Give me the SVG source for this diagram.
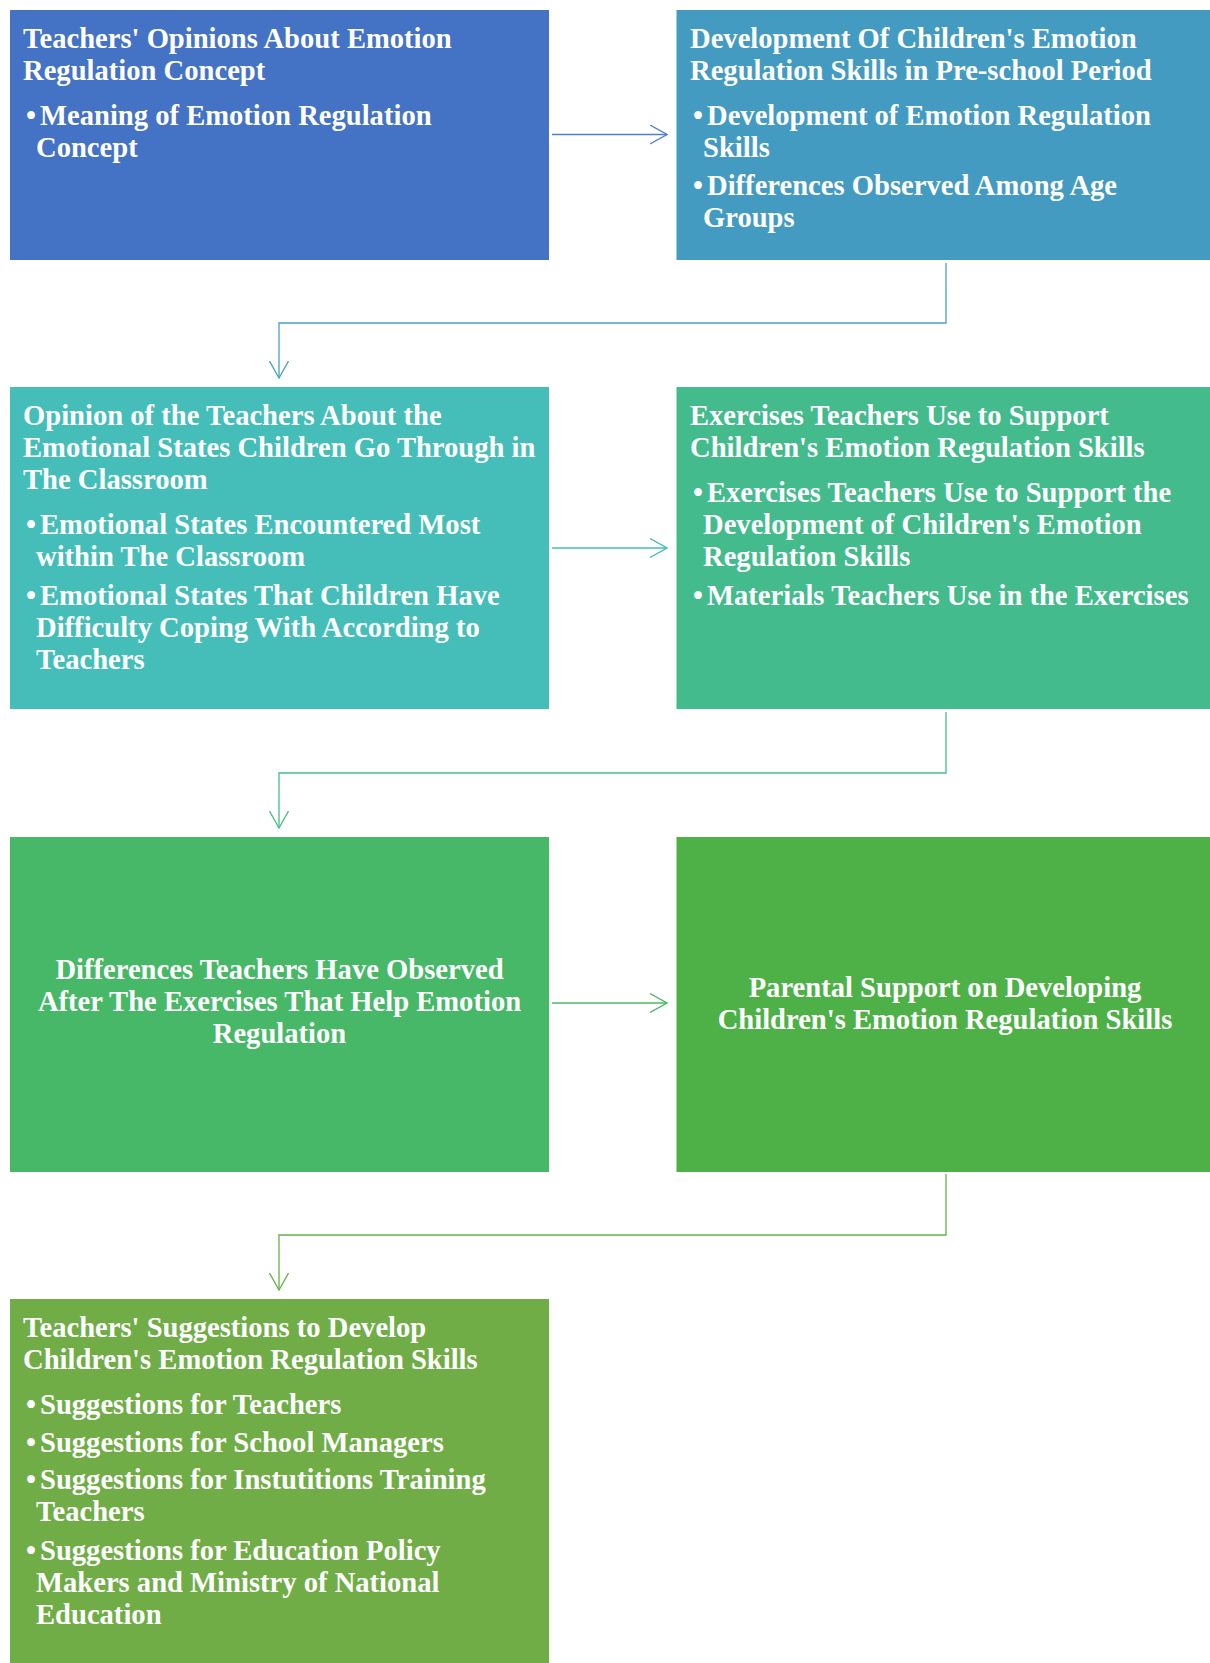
<svg xmlns="http://www.w3.org/2000/svg" width="1210" height="1663" viewBox="0 0 1210 1663">
<style>
text{font-family:"Liberation Serif","Times New Roman",serif;font-weight:bold;font-size:28.6px;fill:#ffffff}
.c{text-anchor:middle}
.ln{fill:none;stroke-width:1.3}
</style>
<defs>
<marker id="m1" viewBox="0 0 18 20" refX="17" refY="10" markerWidth="18" markerHeight="20" markerUnits="userSpaceOnUse" orient="auto"><path d="M0,0.5 L17,10 L0,19.5" fill="none" stroke="#4F7FD0" stroke-width="1.3"/></marker>
<marker id="m2" viewBox="0 0 18 20" refX="17" refY="10" markerWidth="18" markerHeight="20" markerUnits="userSpaceOnUse" orient="auto"><path d="M0,0.5 L17,10 L0,19.5" fill="none" stroke="#45A3C6" stroke-width="1.3"/></marker>
<marker id="m3" viewBox="0 0 18 20" refX="17" refY="10" markerWidth="18" markerHeight="20" markerUnits="userSpaceOnUse" orient="auto"><path d="M0,0.5 L17,10 L0,19.5" fill="none" stroke="#44BDB7" stroke-width="1.3"/></marker>
<marker id="m4" viewBox="0 0 18 20" refX="17" refY="10" markerWidth="18" markerHeight="20" markerUnits="userSpaceOnUse" orient="auto"><path d="M0,0.5 L17,10 L0,19.5" fill="none" stroke="#45BE88" stroke-width="1.3"/></marker>
<marker id="m5" viewBox="0 0 18 20" refX="17" refY="10" markerWidth="18" markerHeight="20" markerUnits="userSpaceOnUse" orient="auto"><path d="M0,0.5 L17,10 L0,19.5" fill="none" stroke="#48B864" stroke-width="1.3"/></marker>
<marker id="m6" viewBox="0 0 18 20" refX="17" refY="10" markerWidth="18" markerHeight="20" markerUnits="userSpaceOnUse" orient="auto"><path d="M0,0.5 L17,10 L0,19.5" fill="none" stroke="#66B04A" stroke-width="1.3"/></marker>
</defs>
<rect width="1210" height="1663" fill="#ffffff"/>

<g id="connectors">
<path class="ln" d="M552,134.5 H667" stroke="#4F7FD0" marker-end="url(#m1)"/>
<path class="ln" d="M946,263 V323 H279 V378" stroke="#45A3C6" marker-end="url(#m2)"/>
<path class="ln" d="M552,548 H667" stroke="#44BDB7" marker-end="url(#m3)"/>
<path class="ln" d="M946,712 V773 H279 V828" stroke="#45BE88" marker-end="url(#m4)"/>
<path class="ln" d="M552,1003 H667" stroke="#48B864" marker-end="url(#m5)"/>
<path class="ln" d="M946,1174 V1235 H279 V1290" stroke="#66B04A" marker-end="url(#m6)"/>
</g>

<g id="node1">
<rect x="10" y="10" width="539" height="250" fill="#4472C4"/>
<text x="23" y="48">Teachers' Opinions About Emotion</text>
<text x="23" y="80">Regulation Concept</text>
<text y="125"><tspan x="26">•</tspan><tspan x="40">Meaning of Emotion Regulation</tspan></text>
<text x="36" y="157">Concept</text>
</g>

<g id="node2">
<rect x="676.5" y="10" width="533.5" height="250" fill="#439BC2"/>
<text x="690" y="48">Development Of Children's Emotion</text>
<text x="690" y="80">Regulation Skills in Pre-school Period</text>
<text y="125"><tspan x="693">•</tspan><tspan x="707">Development of Emotion Regulation</tspan></text>
<text x="703" y="157">Skills</text>
<text y="195"><tspan x="693">•</tspan><tspan x="707">Differences Observed Among Age</tspan></text>
<text x="703" y="227">Groups</text>
</g>

<g id="node3">
<rect x="10" y="387" width="539" height="322" fill="#45BEBA"/>
<text x="23" y="425">Opinion of the Teachers About the</text>
<text x="23" y="457">Emotional States Children Go Through in</text>
<text x="23" y="489">The Classroom</text>
<text y="534"><tspan x="26">•</tspan><tspan x="40">Emotional States Encountered Most</tspan></text>
<text x="36" y="566">within The Classroom</text>
<text y="605"><tspan x="26">•</tspan><tspan x="40">Emotional States That Children Have</tspan></text>
<text x="36" y="637">Difficulty Coping With According to</text>
<text x="36" y="669">Teachers</text>
</g>

<g id="node4">
<rect x="676.5" y="387" width="533.5" height="322" fill="#44BB8D"/>
<text x="690" y="425">Exercises Teachers Use to Support</text>
<text x="690" y="457">Children's Emotion Regulation Skills</text>
<text y="502"><tspan x="693">•</tspan><tspan x="707">Exercises Teachers Use to Support the</tspan></text>
<text x="703" y="534">Development of Children's Emotion</text>
<text x="703" y="566">Regulation Skills</text>
<text y="605"><tspan x="693">•</tspan><tspan x="707">Materials Teachers Use in the Exercises</tspan></text>
</g>

<g id="node5">
<rect x="10" y="837" width="539" height="335" fill="#47B867"/>
<text class="c" x="279.5" y="979">Differences Teachers Have Observed</text>
<text class="c" x="279.5" y="1011">After The Exercises That Help Emotion</text>
<text class="c" x="279.5" y="1043">Regulation</text>
</g>

<g id="node6">
<rect x="676.5" y="837" width="533.5" height="335" fill="#4EB147"/>
<text class="c" x="945" y="997">Parental Support on Developing</text>
<text class="c" x="945" y="1029">Children's Emotion Regulation Skills</text>
</g>

<g id="node7">
<rect x="10" y="1299" width="539" height="364" fill="#70AD47"/>
<text x="23" y="1337">Teachers' Suggestions to Develop</text>
<text x="23" y="1369">Children's Emotion Regulation Skills</text>
<text y="1414"><tspan x="26">•</tspan><tspan x="40">Suggestions for Teachers</tspan></text>
<text y="1452"><tspan x="26">•</tspan><tspan x="40">Suggestions for School Managers</tspan></text>
<text y="1489"><tspan x="26">•</tspan><tspan x="40">Suggestions for Instutitions Training</tspan></text>
<text x="36" y="1521">Teachers</text>
<text y="1560"><tspan x="26">•</tspan><tspan x="40">Suggestions for Education Policy</tspan></text>
<text x="36" y="1592">Makers and Ministry of National</text>
<text x="36" y="1624">Education</text>
</g>
</svg>
